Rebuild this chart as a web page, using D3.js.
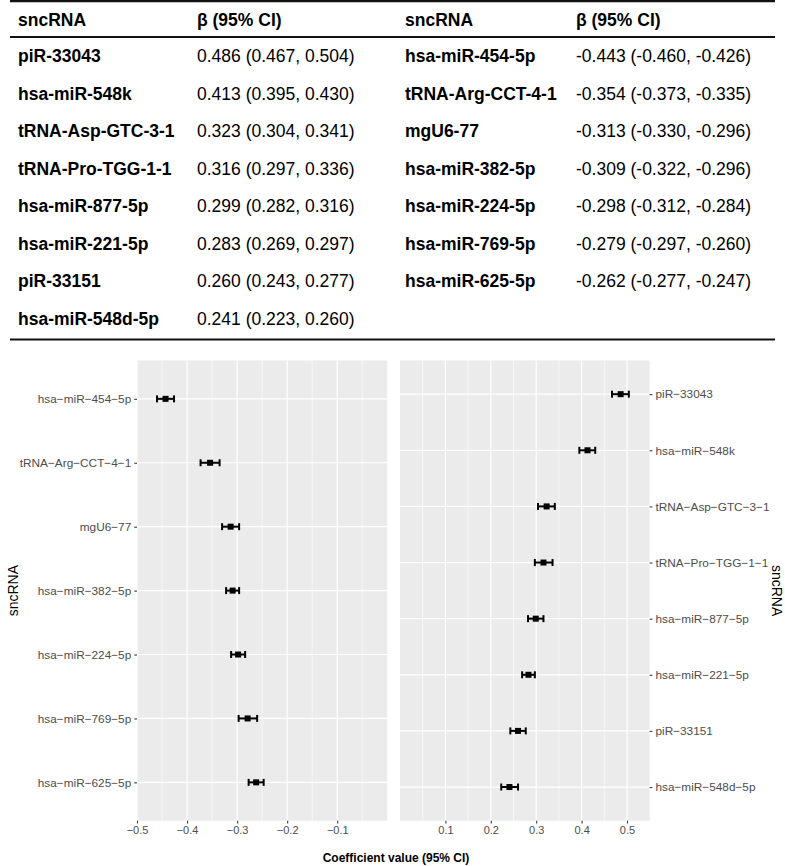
<!DOCTYPE html>
<html>
<head>
<meta charset="utf-8">
<script src="https://cdn.jsdelivr.net/npm/d3@7"></script>
<style>
	body { margin: 0; background: #fff; }
	svg { display: block; font-family: "Liberation Sans", Arial, Helvetica, sans-serif; }
</style>
</head>
<body>
<svg id="viz" width="785" height="866"></svg>
<script>
// positive associations (right panel, table left)
var posNames = ["piR-33043", "hsa-miR-548k", "tRNA-Asp-GTC-3-1", "tRNA-Pro-TGG-1-1", "hsa-miR-877-5p", "hsa-miR-221-5p", "piR-33151", "hsa-miR-548d-5p"];
var posBeta = [0.486, 0.413, 0.323, 0.316, 0.299, 0.283, 0.260, 0.241];
var posLow = [0.467, 0.395, 0.304, 0.297, 0.282, 0.269, 0.243, 0.223];
var posHigh = [0.504, 0.430, 0.341, 0.336, 0.316, 0.297, 0.277, 0.260];

// negative associations (left panel, table right)
var negNames = ["hsa-miR-454-5p", "tRNA-Arg-CCT-4-1", "mgU6-77", "hsa-miR-382-5p", "hsa-miR-224-5p", "hsa-miR-769-5p", "hsa-miR-625-5p"];
var negBeta = [-0.443, -0.354, -0.313, -0.309, -0.298, -0.279, -0.262];
var negLow = [-0.460, -0.373, -0.330, -0.322, -0.312, -0.297, -0.277];
var negHigh = [-0.426, -0.335, -0.296, -0.296, -0.284, -0.260, -0.247];

var negTicks = [-0.5, -0.4, -0.3, -0.2, -0.1];
var posTicks = [0.1, 0.2, 0.3, 0.4, 0.5];

var svg = d3.select("#viz");

function rows(names, beta, low, high) {
	return names.map(function (n, i) {
		return { name: n, beta: beta[i], low: low[i], high: high[i] };
	});
}
var posData = rows(posNames, posBeta, posLow, posHigh);
var negData = rows(negNames, negBeta, negLow, negHigh);

// ---------- table ----------
var table = svg.append("g").attr("class", "table");
function ci(d) {
	return d.beta.toFixed(3) + " (" + d.low.toFixed(3) + ", " + d.high.toFixed(3) + ")";
}
var rowY = d3.scaleLinear().domain([0, 7]).range([62, 325]);
var cols = [{ x1: 18, x2: 197, data: posData }, { x1: 405, x2: 576, data: negData }];

table.append("line").attr("x1", 10).attr("x2", 775).attr("y1", 1).attr("y2", 1)
	.attr("stroke", "#111").attr("stroke-width", 2.5);
table.append("line").attr("x1", 10).attr("x2", 775).attr("y1", 37).attr("y2", 37)
	.attr("stroke", "#111").attr("stroke-width", 2);
table.append("line").attr("x1", 10).attr("x2", 775).attr("y1", 339.5).attr("y2", 339.5)
	.attr("stroke", "#111").attr("stroke-width", 2);

cols.forEach(function (c) {
	table.append("text").attr("x", c.x1).attr("y", 26).attr("font-size", 17.5)
		.attr("font-weight", "bold").text("sncRNA");
	table.append("text").attr("x", c.x2).attr("y", 26).attr("font-size", 17.5)
		.attr("font-weight", "bold").text("β (95% CI)");
	var r = table.append("g").selectAll("g").data(c.data).enter().append("g");
	r.append("text").attr("x", c.x1).attr("y", function (d, i) { return rowY(i); })
		.attr("font-size", 17.5).attr("font-weight", "bold").text(function (d) { return d.name; });
	r.append("text").attr("x", c.x2).attr("y", function (d, i) { return rowY(i); })
		.attr("font-size", 17.5).text(ci);
});

// ---------- forest panels ----------
var panelTop = 360.5, panelBottom = 820.7;
var minus = function (s) { return s.replace(/-/g, "\u2212"); };

function panel(opt) {
	var x = d3.scaleLinear().domain(opt.domain).range(opt.range);
	var y = d3.scalePoint().domain(opt.data.map(function (d) { return d.name; }))
		.range([panelTop, panelBottom]).padding(0.6);
	var g = svg.append("g");
	g.append("rect").attr("x", opt.range[0]).attr("y", panelTop)
		.attr("width", opt.range[1] - opt.range[0]).attr("height", panelBottom - panelTop)
		.attr("fill", "#EBEBEB");
	// minor grid
	g.append("g").selectAll("line").data(opt.minor).enter().append("line")
		.attr("x1", x).attr("x2", x).attr("y1", panelTop).attr("y2", panelBottom)
		.attr("stroke", "#fff").attr("stroke-width", 0.6);
	// major grid
	g.append("g").selectAll("line").data(opt.ticks).enter().append("line")
		.attr("x1", x).attr("x2", x).attr("y1", panelTop).attr("y2", panelBottom)
		.attr("stroke", "#fff").attr("stroke-width", 1.2);
	g.append("g").selectAll("line").data(opt.data).enter().append("line")
		.attr("x1", opt.range[0]).attr("x2", opt.range[1])
		.attr("y1", function (d) { return y(d.name); }).attr("y2", function (d) { return y(d.name); })
		.attr("stroke", "#fff").attr("stroke-width", 1.2);

	// x axis
	var xa = g.append("g").attr("transform", "translate(0," + panelBottom + ")")
		.call(d3.axisBottom(x).tickValues(opt.ticks).tickSize(2.75).tickPadding(3)
			.tickFormat(d3.format(".1f")));
	// y axis
	var ya = g.append("g")
		.attr("transform", "translate(" + (opt.side === "left" ? opt.range[0] : opt.range[1]) + ",0)")
		.call((opt.side === "left" ? d3.axisLeft(y) : d3.axisRight(y)).tickSize(2.75).tickPadding(3)
			.tickFormat(minus));
	[xa, ya].forEach(function (a) {
		a.select(".domain").remove();
		a.selectAll(".tick line").attr("stroke", "#333").attr("stroke-width", 1.07);
		a.selectAll(".tick text").attr("fill", "#4D4D4D")
			.attr("font-family", "Liberation Sans, Arial, sans-serif");
	});
	xa.selectAll(".tick text").attr("font-size", 11);
	ya.selectAll(".tick text").attr("font-size", 11.8);

	// error bars
	var bars = g.append("g").selectAll("g").data(opt.data).enter().append("g")
		.attr("transform", function (d) { return "translate(0," + y(d.name) + ")"; });
	bars.append("line").attr("x1", function (d) { return x(d.low); }).attr("x2", function (d) { return x(d.high); })
		.attr("stroke", "#000").attr("stroke-width", 2);
	bars.selectAll(".cap").data(function (d) { return [d.low, d.high]; }).enter().append("line")
		.attr("x1", x).attr("x2", x).attr("y1", -3.5).attr("y2", 3.5)
		.attr("stroke", "#000").attr("stroke-width", 2);
	bars.append("rect").attr("x", function (d) { return x(d.beta) - 3; }).attr("y", -3)
		.attr("width", 6).attr("height", 6).attr("fill", "#000");
	return g;
}

panel({ data: negData, domain: [-0.5, 0], range: [137, 387.3], ticks: negTicks,
	minor: [-0.45, -0.35, -0.25, -0.15, -0.05], side: "left" });
panel({ data: posData, domain: [0, 0.55], range: [400, 649.7], ticks: posTicks,
	minor: [0.05, 0.15, 0.25, 0.35, 0.45], side: "right" });

// axis titles
svg.append("text").attr("x", 396).attr("y", 862).attr("text-anchor", "middle")
	.attr("font-size", 12).attr("font-weight", "bold").text("Coefficient value (95% CI)");
svg.append("text").attr("transform", "translate(18," + ((panelTop + panelBottom) / 2) + ") rotate(-90)")
	.attr("text-anchor", "middle").attr("font-size", 14).text("sncRNA");
svg.append("text").attr("transform", "translate(772," + ((panelTop + panelBottom) / 2) + ") rotate(90)")
	.attr("text-anchor", "middle").attr("font-size", 14).text("sncRNA");
</script>
</body>
</html>
